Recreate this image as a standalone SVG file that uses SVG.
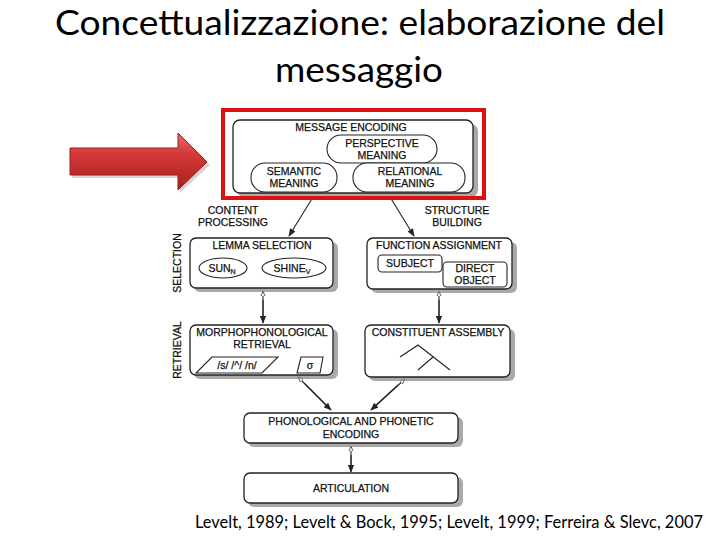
<svg xmlns="http://www.w3.org/2000/svg" width="720" height="540" viewBox="0 0 720 540">
<style>
.t{font-family:"Liberation Sans",Arial,sans-serif;font-size:10.5px;fill:#111;stroke:#111;stroke-width:0.25;text-anchor:middle}
.box{fill:#fff;stroke:#222;stroke-width:1.3}
.sh{fill:#8c8c8c;opacity:0.75}
.in{fill:#fff;stroke:#222;stroke-width:1.1}
.ln{stroke:#222;stroke-width:1.1;fill:none}
.title{font-family:Lato,"Liberation Sans",Arial,sans-serif;font-size:35px;fill:#000;text-anchor:middle}
</style>
<defs>
<marker id="solid" viewBox="0 0 10 10" refX="9" refY="5" markerWidth="8" markerHeight="8" orient="auto" markerUnits="userSpaceOnUse">
<path d="M0,1 L10,5 L0,9 z" fill="#222"/>
</marker>
<marker id="hollow" viewBox="0 0 10 10" refX="9" refY="5" markerWidth="6" markerHeight="6" orient="auto" markerUnits="userSpaceOnUse">
<path d="M0,1.5 L9,5 L0,8.5 z" fill="#fff" stroke="#222" stroke-width="1.2"/>
</marker>
<linearGradient id="rg" x1="0" y1="0" x2="0" y2="1">
<stop offset="0" stop-color="#e86a6a"/>
<stop offset="0.35" stop-color="#d63a3a"/>
<stop offset="1" stop-color="#a81e1e"/>
</linearGradient>
</defs>

<g id="title">
<text class="title" x="360" y="35" textLength="610" lengthAdjust="spacingAndGlyphs">Concettualizzazione: elaborazione del</text>
<text class="title" x="359" y="82" textLength="168" lengthAdjust="spacingAndGlyphs">messaggio</text>
</g>

<g id="red-arrow">
<path d="M72,151 L180,151 L180,136 L210,165 L180,193 L180,178 L72,178 z" fill="#888" opacity="0.35"/>
<path d="M70,148 L178,148 L178,133 L207,162 L178,190 L178,175 L70,175 z" fill="url(#rg)" stroke="#9a1c1c" stroke-width="1"/>
</g>

<g id="connectors">
<line class="ln" x1="313" y1="197" x2="289" y2="236" marker-end="url(#solid)"/>
<line class="ln" x1="390" y1="197" x2="414" y2="236" marker-end="url(#solid)"/>
<line class="ln" x1="263" y1="322" x2="263" y2="291" marker-end="url(#hollow)"/>
<line class="ln" x1="263" y1="300" x2="263" y2="323" marker-end="url(#solid)"/>
<line class="ln" x1="439" y1="322" x2="439" y2="291" marker-end="url(#hollow)"/>
<line class="ln" x1="439" y1="300" x2="439" y2="323" marker-end="url(#solid)"/>
<line class="ln" x1="330" y1="409" x2="298" y2="377" marker-end="url(#hollow)"/>
<line class="ln" x1="305" y1="384" x2="331" y2="410" marker-end="url(#solid)"/>
<line class="ln" x1="372" y1="409" x2="405" y2="379" marker-end="url(#hollow)"/>
<line class="ln" x1="398" y1="385" x2="371" y2="410" marker-end="url(#solid)"/>
<line class="ln" x1="351" y1="471" x2="351" y2="446" marker-end="url(#hollow)"/>
<line class="ln" x1="351" y1="455" x2="351" y2="472" marker-end="url(#solid)"/>
</g>

<g id="message-encoding">
<rect class="sh" x="237" y="124" width="241" height="73" rx="7"/>
<rect class="box" x="233" y="120" width="240" height="73" rx="7"/>
<text class="t" x="351" y="131">MESSAGE ENCODING</text>
<rect class="in" x="327" y="135" width="110" height="28" rx="14"/>
<text class="t" x="382" y="147">PERSPECTIVE</text>
<text class="t" x="382" y="159">MEANING</text>
<rect class="in" x="251" y="163" width="86" height="29" rx="14"/>
<text class="t" x="294" y="175">SEMANTIC</text>
<text class="t" x="294" y="187">MEANING</text>
<rect class="in" x="353" y="163" width="112" height="29" rx="14"/>
<text class="t" x="410" y="175">RELATIONAL</text>
<text class="t" x="410" y="187">MEANING</text>
</g>

<g id="highlight">
<rect x="223" y="110" width="261" height="88" fill="none" stroke="#e01010" stroke-width="4"/>
</g>

<g id="labels">
<text class="t" x="233" y="214">CONTENT</text>
<text class="t" x="233" y="226">PROCESSING</text>
<text class="t" x="457" y="214">STRUCTURE</text>
<text class="t" x="457" y="226">BUILDING</text>
<text class="t" transform="translate(181,263) rotate(-90)">SELECTION</text>
<text class="t" transform="translate(181,350) rotate(-90)">RETRIEVAL</text>
</g>

<g id="lemma-selection">
<rect class="sh" x="194" y="242" width="144" height="50" rx="6"/>
<rect class="box" x="190" y="238" width="143" height="50" rx="6"/>
<text class="t" x="262" y="249">LEMMA SELECTION</text>
<ellipse class="in" cx="223" cy="268" rx="24" ry="10"/>
<text class="t" x="222" y="272">SUN<tspan font-size="7" dy="2">N</tspan></text>
<ellipse class="in" cx="294" cy="268" rx="32" ry="10"/>
<text class="t" x="292" y="272">SHINE<tspan font-size="7" dy="2">V</tspan></text>
</g>

<g id="function-assignment">
<rect class="sh" x="371" y="242" width="146" height="51" rx="6"/>
<rect class="box" x="367" y="238" width="145" height="51" rx="6"/>
<text class="t" x="439" y="249">FUNCTION ASSIGNMENT</text>
<rect class="in" x="378" y="255" width="64" height="17" rx="4"/>
<text class="t" x="410" y="267">SUBJECT</text>
<rect class="in" x="443" y="262" width="64" height="25" rx="4"/>
<text class="t" x="475" y="272">DIRECT</text>
<text class="t" x="475" y="284">OBJECT</text>
</g>

<g id="morphophonological-retrieval">
<rect class="sh" x="194" y="329" width="144" height="50" rx="6"/>
<rect class="box" x="190" y="325" width="143" height="50" rx="6"/>
<text class="t" x="262" y="336">MORPHOPHONOLOGICAL</text>
<text class="t" x="262" y="348">RETRIEVAL</text>
<path class="in" d="M212,357 L278,357 L262,373 L196,373 z"/>
<text class="t" x="237" y="369" font-size="9.5">/s/ /^/ /n/</text>
<path class="in" d="M301,357 L323,357 L320,373 L297,373 z"/>
<text class="t" x="310" y="369" font-size="9">σ</text>
</g>

<g id="constituent-assembly">
<rect class="sh" x="369" y="329" width="146" height="52" rx="6"/>
<rect class="box" x="365" y="325" width="145" height="52" rx="6"/>
<text class="t" x="438" y="336">CONSTITUENT ASSEMBLY</text>
<path class="ln" d="M400,357 L418,345 L450,370 M433,357 L418,370"/>
</g>

<g id="phonological-encoding">
<rect class="sh" x="248" y="417" width="215" height="30" rx="6"/>
<rect class="box" x="244" y="413" width="214" height="30" rx="6"/>
<text class="t" x="351" y="425">PHONOLOGICAL AND PHONETIC</text>
<text class="t" x="351" y="438">ENCODING</text>
</g>

<g id="articulation">
<rect class="sh" x="248" y="477" width="215" height="30" rx="6"/>
<rect class="box" x="244" y="473" width="214" height="30" rx="6"/>
<text class="t" x="351" y="492">ARTICULATION</text>
</g>

<g id="citation">
<text x="449" y="528" font-family="Lato,Liberation Sans,Arial,sans-serif" font-size="17" text-anchor="middle" textLength="508" lengthAdjust="spacingAndGlyphs">Levelt, 1989; Levelt &amp; Bock, 1995; Levelt, 1999; Ferreira &amp; Slevc, 2007</text>
</g>
</svg>
